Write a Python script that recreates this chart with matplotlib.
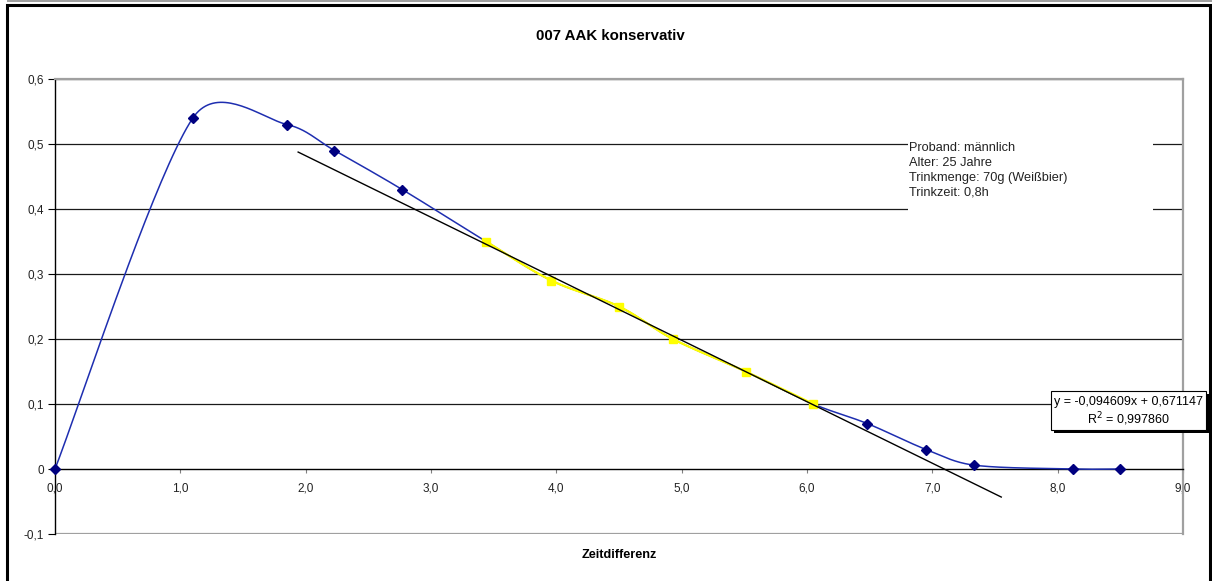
import numpy as np
import matplotlib
matplotlib.use('Agg')
import matplotlib.pyplot as plt
from matplotlib.patches import Rectangle
from matplotlib.ticker import FixedLocator, FuncFormatter

plt.rcParams['font.family'] = ['Liberation Sans', 'DejaVu Sans']

# measurements: time difference [h] vs. BAK
zeit = [0.0, 1.10, 1.85, 2.23, 2.77, 3.44, 3.96, 4.50, 4.93, 5.51, 6.05, 6.48, 6.95, 7.33, 8.12, 8.50]
aak = [0.0, 0.54, 0.53, 0.49, 0.43, 0.35, 0.29, 0.25, 0.20, 0.15, 0.10, 0.07, 0.03, 0.006, 0.0, 0.0]
# elimination phase used for the linear fit
abbau_von, abbau_bis = 5, 10
steigung = -0.094609
achsenabschnitt = 0.671147
r_quadrat = 0.997860
prognose = 1.5  # trend line forecast backward/forward

titel = "007 AAK konservativ"
x_titel = "Zeitdifferenz"
info = ["Proband: männlich", "Alter: 25 Jahre", "Trinkmenge: 70g (Weißbier)", "Trinkzeit: 0,8h"]

W, H = 1212, 581
fig = plt.figure(figsize=(W / 100, H / 100), dpi=100)
ax = fig.add_axes([55 / W, 1 - 534 / H, (1183 - 55) / W, (534 - 79) / H])
ax.set_xlim(0, 9)
ax.set_ylim(-0.1, 0.6)


def px(x, y):
    return (x / W, 1 - y / H)


def smooth(xs, ys, n=40):
    # Bezier smoothing in display space, similar to spreadsheet "smoothed line"
    p = ax.transData.transform(np.column_stack([xs, ys]))
    out = [p[0]]
    t = np.linspace(0, 1, n)[1:, None]
    for i in range(len(p) - 1):
        p0 = p[i - 1] if i > 0 else p[i]
        p1, p2 = p[i], p[i + 1]
        p3 = p[i + 2] if i + 2 < len(p) else p[i + 1]
        d01 = np.hypot(*(p1 - p0))
        d12 = np.hypot(*(p2 - p1))
        d23 = np.hypot(*(p3 - p2))
        f1 = np.sqrt(min(1, 2 * d12 / (d01 + d12))) if d01 + d12 > 0 else 0
        f2 = np.sqrt(min(1, 2 * d12 / (d12 + d23))) if d12 + d23 > 0 else 0
        c1 = p1 + (p2 - p0) / 6 * f1
        c2 = p2 - (p3 - p1) / 6 * f2
        seg = (1 - t) ** 3 * p1 + 3 * (1 - t) ** 2 * t * c1 + 3 * (1 - t) * t ** 2 * c2 + t ** 3 * p2
        out.extend(seg)
    out = ax.transData.inverted().transform(np.array(out))
    return out[:, 0], out[:, 1]


# grid and axes
ax.yaxis.set_major_locator(FixedLocator(np.round(np.arange(-0.1, 0.61, 0.1), 1)))
ax.xaxis.set_major_locator(FixedLocator(np.arange(0, 10, 1.0)))
ax.yaxis.set_major_formatter(FuncFormatter(lambda v, _: "0" if abs(v) < 1e-9 else f"{v:.1f}".replace('.', ',')))
ax.xaxis.set_major_formatter(FuncFormatter(lambda v, _: f"{v:.1f}".replace('.', ',')))
for gy in np.arange(0.1, 0.61, 0.1):
    ax.axhline(gy, color='#1a1a1a', lw=0.9, zorder=1)

for s in ['top', 'right']:
    ax.spines[s].set_color('#a0a0a0')
    ax.spines[s].set_linewidth(1.6)
ax.spines['left'].set_color('black')
ax.spines['left'].set_linewidth(1.0)
ax.spines['bottom'].set_position(('data', 0))
ax.spines['bottom'].set_color('black')
ax.spines['bottom'].set_linewidth(1.0)
ax.axhline(-0.1, color='#a0a0a0', lw=1.6, zorder=1)
ax.tick_params(axis='y', direction='out', length=5, width=0.8, color='black',
               labelsize=8.5, pad=3, labelcolor='#222222')
ax.tick_params(axis='x', direction='out', length=3, width=0.8, color='#808080',
               labelsize=8.5, pad=7, labelcolor='#222222')
ax.set_facecolor('white')

# measured curve (markers of the fitted range are drawn by the second series)
sx, sy = smooth(zeit, aak)
ax.plot(sx, sy, color='#1e2eb0', lw=1.1, zorder=3, clip_on=False)
bx = [x for i, x in enumerate(zeit) if not abbau_von <= i <= abbau_bis]
by = [y for i, y in enumerate(aak) if not abbau_von <= i <= abbau_bis]
ax.plot(bx, by, ls='none', marker='D', ms=5.5, color='#000080', zorder=4, clip_on=False)

# elimination phase
ex, ey = zeit[abbau_von:abbau_bis + 1], aak[abbau_von:abbau_bis + 1]
yx, yy = smooth(ex, ey)
ax.plot(yx, yy, color='#ffff00', lw=1.6, zorder=5)
ax.plot(ex, ey, ls='none', marker='s', ms=5.5, color='#ffff00', zorder=6)

# linear trend line
tx = np.array([ex[0] - prognose, ex[-1] + prognose])
ax.plot(tx, steigung * tx + achsenabschnitt, color='black', lw=1.0, zorder=7, clip_on=False)

# titles
fig.text(610 / W, 1 - 36 / H, titel, ha='center', va='center', fontsize=10.8, fontweight='bold')
fig.text(619 / W, 1 - 555 / H, x_titel, ha='center', va='center', fontsize=9.1, fontweight='bold')

# info box
fig.patches.append(Rectangle(px(908, 214), (1153 - 908) / W, (214 - 135) / H,
                             transform=fig.transFigure, facecolor='white', edgecolor='none', zorder=2))
fig.text(*px(909, 142), "\n".join(info), ha='left', va='top', fontsize=9.2,
         linespacing=1.31, color='#222222', zorder=3)

# regression label with shadow
fig.patches.append(Rectangle(px(1054, 433), (1209 - 1054) / W, (433 - 394) / H,
                             transform=fig.transFigure, facecolor='black', edgecolor='none', zorder=8))
fig.patches.append(Rectangle(px(1051, 430), (1206 - 1051) / W, (430 - 391) / H,
                             transform=fig.transFigure, facecolor='white', edgecolor='black', lw=0.8, zorder=9))
gl = f"y = {steigung:.6f}x + {achsenabschnitt:.6f}".replace('.', ',')
fig.text(1128 / W, 1 - 402 / H, gl, ha='center', va='center', fontsize=9.0, zorder=10)
fig.text(1128 / W, 1 - 419 / H, f"R$^2$ = {r_quadrat:.6f}".replace('.', ','), ha='center', va='center',
         fontsize=9.0, zorder=10)

# chart frame
fig.patches.append(Rectangle(px(7, 600), (1210 - 7) / W, (600 - 5) / H, transform=fig.transFigure,
                             facecolor='none', edgecolor='black', lw=2.2, zorder=20))
fig.patches.append(Rectangle(px(7, 2), (W - 7) / W, 2 / H, transform=fig.transFigure,
                             facecolor='#a0a0a0', edgecolor='none', zorder=20))

fig.savefig('out.png', dpi=100)
